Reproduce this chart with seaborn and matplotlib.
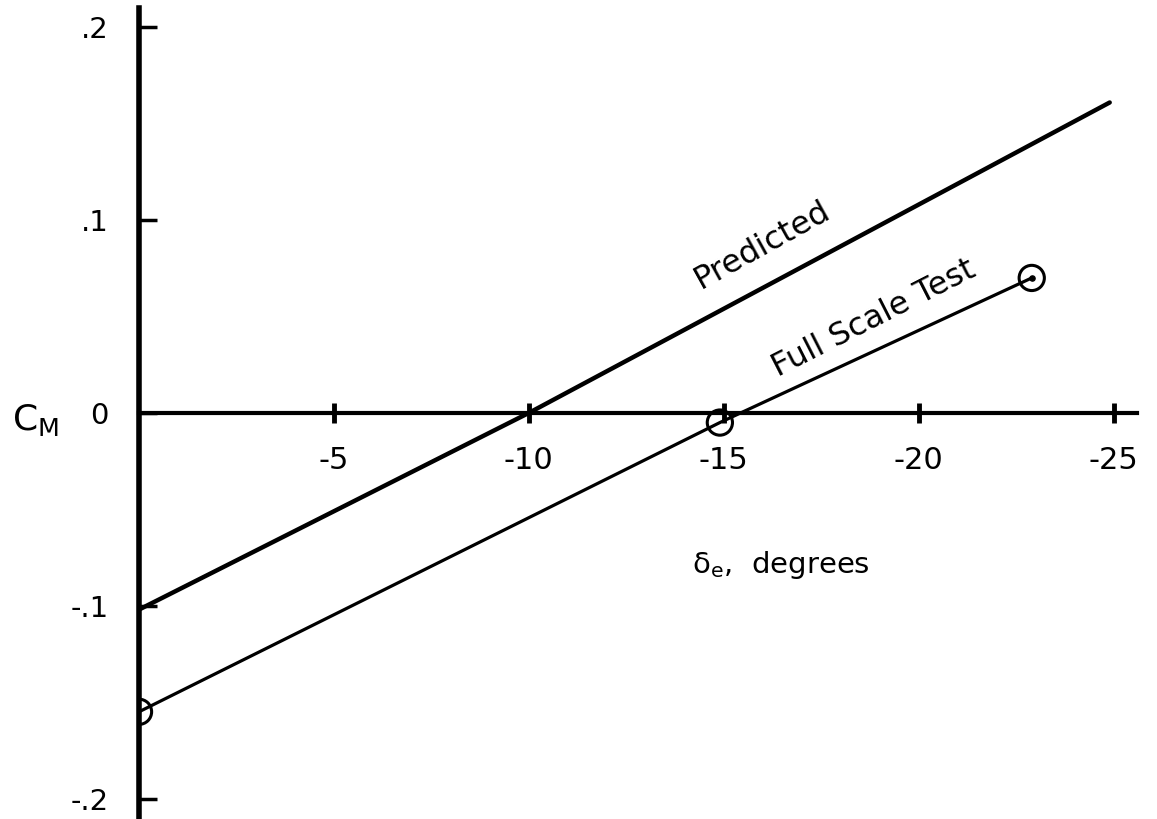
import pandas as pd
import numpy as np
import seaborn as sns
import matplotlib.pyplot as plt

# values
pred_x = [0, -10, -24.9]
pred_y = [-0.102, 0.0, 0.161]
test_x = [0, -14.9, -22.9]
test_y = [-0.155, -0.005, 0.070]
x_ticks = [-5, -10, -15, -20, -25]
x_labels = ['-5', '-10', '-15', '-20', '-25']
y_ticks = [0.2, 0.1, 0, -0.1, -0.2]
y_labels = ['.2', '.1', '0', '-.1', '-.2']

sns.set_theme(style='white')
plt.rcParams['font.family'] = ['DejaVu Sans']
plt.rcParams['text.color'] = 'black'

pred = pd.DataFrame({'delta': pred_x, 'cm': pred_y})
test = pd.DataFrame({'delta': test_x, 'cm': test_y})

fig = plt.figure(figsize=(11.57, 8.19), dpi=100)
ax = fig.add_axes([139 / 1157, 0, (1137 - 139) / 1157, 811 / 819])

sns.lineplot(data=pred, x='delta', y='cm', color='black', linewidth=3.2, estimator=None, sort=False, ax=ax)
sns.lineplot(data=test, x='delta', y='cm', color='black', linewidth=2.3, estimator=None, sort=False, ax=ax)
sns.scatterplot(data=test, x='delta', y='cm', marker='o', s=330, facecolor='none', edgecolor='black',
                linewidth=2.2, zorder=5, ax=ax)
# dot inside the last test point
ax.scatter(test_x[-1:], test_y[-1:], s=14, color='black', zorder=6)

ax.set_xlim(0, -25.6)
ax.set_ylim(-0.2106, 0.210)
ax.set_xlabel('')
ax.set_ylabel('')

ax.spines['bottom'].set_position(('data', 0))
ax.spines['top'].set_visible(False)
ax.spines['right'].set_visible(False)
ax.spines['left'].set_linewidth(4)
ax.spines['bottom'].set_linewidth(3)
ax.spines['left'].set_color('black')
ax.spines['bottom'].set_color('black')

ax.set_xticks(x_ticks)
ax.set_xticklabels(x_labels)
ax.set_yticks(y_ticks)
ax.set_yticklabels(y_labels)
ax.tick_params(axis='x', bottom=True, direction='inout', length=14, width=3.5, pad=17,
               labelsize=22, colors='black')
ax.tick_params(axis='y', left=True, direction='in', length=13, width=2.5, pad=22,
               labelsize=21, colors='black')

ax.text(-16.0, 0.087, 'Predicted', fontsize=23, rotation=29, rotation_mode='anchor',
        ha='center', va='center')
ax.text(-18.85, 0.049, 'Full Scale Test', fontsize=23, rotation=27, rotation_mode='anchor',
        ha='center', va='center')
ax.text(-14.18, -0.079, r'$\mathregular{\delta_e}$,  degrees', fontsize=21, ha='left', va='center')

fig.text(12 / 1157, 1 - 420 / 819, r'$\mathregular{C_M}$', fontsize=26, ha='left', va='center')

fig.savefig('out.png', dpi=100)
